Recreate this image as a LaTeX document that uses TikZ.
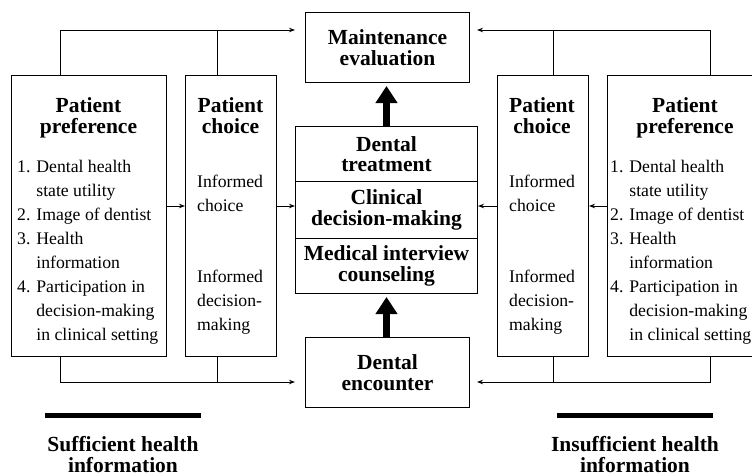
\documentclass[tikz,border=0pt]{standalone}
\usepackage{fontspec}
\setmainfont{Liberation Serif}
\usetikzlibrary{arrows.meta,positioning}

\begin{document}
\begin{tikzpicture}[x=1pt,y=-1pt,
   box/.style={draw,line width=1pt,inner sep=0pt,anchor=north west},
   title/.style={font=\fontsize{21.5}{20.5}\selectfont\bfseries,align=center,inner sep=0pt},
   body/.style={font=\fontsize{17.7}{24}\selectfont,align=left,inner sep=0pt,anchor=base west},
   wire/.style={line width=1pt},
   link/.style={wire,-{Stealth[length=6pt,width=4.5pt]}},
   fat/.style={line width=7pt,-{Triangle[length=17pt,width=21pt]}},
   bar/.style={fill,inner sep=0pt,minimum width=156pt,minimum height=5pt}]
   \useasboundingbox (0,0) rectangle (752,475);
   \clip (0,0) rectangle (752,475);

   % left side (text nodes placed by the baseline of their last line)
   \node[box,minimum width=155pt,minimum height=281pt] (pref_l) at (11,75) {};
   \node[title,anchor=base] (pref_l_t) at (88.5,133) {Patient\\preference};
   \node[body] (pref_l_b) at (17,340) {1. Dental health\\\phantom{1. }state utility\\2. Image of dentist\\3. Health\\\phantom{3. }information\\4. Participation in\\\phantom{4. }decision-making\\\phantom{4. }in clinical setting};
   \node[box,minimum width=91pt,minimum height=281pt] (choice_l) at (185,75) {};
   \node[title,anchor=base] (choice_l_t) at (230.5,133) {Patient\\choice};
   \node[body] (choice_l_a) at (197,211) {Informed\\choice};
   \node[body] (choice_l_b) at (197,330) {Informed\\decision-\\making};

   % middle column
   \node[box,title,minimum width=164pt,minimum height=70pt] (maint) at (305,12) {Maintenance\\evaluation};
   \node[box,title,minimum width=182pt,minimum height=55pt] (treat) at (295,126) {Dental\\treatment};
   \node[box,title,minimum width=182pt,minimum height=57pt] (clin) at (295,181) {Clinical\\decision-making};
   \node[box,title,minimum width=182pt,minimum height=55pt] (interv) at (295,238) {Medical interview\\counseling};
   \node[box,title,minimum width=164pt,minimum height=70pt] (encounter) at (305,337) {Dental\\encounter};

   % right side
   \node[box,minimum width=91pt,minimum height=281pt] (choice_r) at (497,75) {};
   \node[title,anchor=base] (choice_r_t) at (542,133) {Patient\\choice};
   \node[body] (choice_r_a) at (509,211) {Informed\\choice};
   \node[body] (choice_r_b) at (509,330) {Informed\\decision-\\making};
   \node[box,minimum width=155pt,minimum height=281pt] (pref_r) at (607,75) {};
   \node[title,anchor=base] (pref_r_t) at (685,133) {Patient\\preference};
   \node[body] (pref_r_b) at (610,340) {1. Dental health\\\phantom{1. }state utility\\2. Image of dentist\\3. Health\\\phantom{3. }information\\4. Participation in\\\phantom{4. }decision-making\\\phantom{4. }in clinical setting};

   % bars and captions
   \node[bar] (bar_l) at (123,415) {};
   \node[title,anchor=base] (suff) at (123,472) {Sufficient health\\information};
   \node[bar] (bar_r) at (635,415) {};
   \node[title,anchor=base] (insuff) at (635,472) {Insufficient health\\information};

   % connectors
   \coordinate (top_l) at (60,30);
   \coordinate (top_lc) at (217,30);
   \coordinate (top_r) at (710,30);
   \coordinate (top_rc) at (553,30);
   \coordinate (bot_l) at (60,382);
   \coordinate (bot_lc) at (217,382);
   \coordinate (bot_r) at (710,382);
   \coordinate (bot_rc) at (553,382);
   \coordinate (mid) at (386,206);

   \draw[link,shorten >=10pt] (top_l |- pref_l.north) -- (top_l) -- (top_l -| maint.west);
   \draw[wire] (top_lc |- choice_l.north) -- (top_lc);
   \draw[link,shorten >=7pt] (top_r |- pref_r.north) -- (top_r) -- (top_r -| maint.east);
   \draw[wire] (top_rc |- choice_r.north) -- (top_rc);
   \draw[link,shorten >=10pt] (bot_l |- pref_l.south) -- (bot_l) -- (bot_l -| encounter.west);
   \draw[wire] (bot_lc |- choice_l.south) -- (bot_lc);
   \draw[link,shorten >=7pt] (bot_r |- pref_r.south) -- (bot_r) -- (bot_r -| encounter.east);
   \draw[wire] (bot_rc |- choice_r.south) -- (bot_rc);

   \draw[link] (pref_l.east |- mid) -- (choice_l.west |- mid);
   \draw[link] (choice_l.east |- mid) -- (clin.west |- mid);
   \draw[link] (pref_r.west |- mid) -- (choice_r.east |- mid);
   \draw[link] (choice_r.west |- mid) -- (clin.east |- mid);

   \draw[fat,shorten >=3pt] (treat.north) -- (maint.south -| treat.north);
   \draw[fat,shorten >=3pt] (encounter.north -| interv.south) -- (interv.south);
\end{tikzpicture}
\end{document}
